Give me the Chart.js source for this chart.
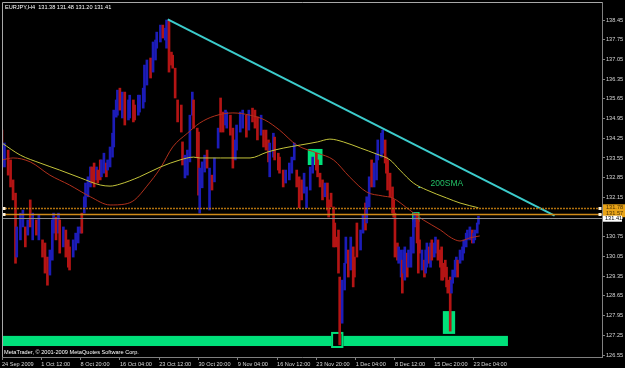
<!DOCTYPE html>
<html><head><meta charset="utf-8">
<script src="https://cdn.jsdelivr.net/npm/chart.js@4"></script>
<style>html,body{margin:0;padding:0;background:#000;overflow:hidden}canvas{display:block}</style>
</head><body>
<canvas id="c" width="625" height="368"></canvas>
<script>
// ---------- text ----------
const symbolTitle = "EURJPY,H4  131.38 131.48 131.20 131.41";
const copyrightText = "MetaTrader, \u00a9 2001-2009 MetaQuotes Software Corp.";
const smaLabel = "200SMA";

// ---------- axes ----------
const dateTickIdx = [0,32,64,96,128,160,192,224,256,288,320,352,384];
const dateLabels = ["24 Sep 2009","1 Oct 12:00","8 Oct 20:00","16 Oct 04:00","23 Oct 12:00","30 Oct 20:00","9 Nov 04:00","16 Nov 12:00","23 Nov 20:00","1 Dec 04:00","8 Dec 12:00","15 Dec 20:00","23 Dec 04:00"];
const priceTicks = [126.55,127.25,127.95,128.65,129.35,130.05,130.75,131.45,132.15,132.85,133.55,134.25,134.95,135.65,136.35,137.05,137.75,138.45];

// ---------- H4 bars (index = H4 bar number) ----------
const barIdx = [0,2,5,7,9,11,12,15,17,19,
21,23,25,28,30,33,35,37,39,41,
42,44,46,47,50,52,54,55,58,60,
62,64,65,67,68,70,72,73,75,77,
78,80,81,83,85,86,88,90,91,93,
94,96,98,100,103,104,107,108,111,112,
115,116,118,121,123,125,126,129,131,133,
134,136,138,139,141,143,146,147,149,151,
153,155,156,159,160,161,163,165,167,169,
171,173,176,178,180,182,183,186,188,190,
191,194,196,199,201,204,206,208,211,213,
215,217,218,221,222,225,226,229,231,234,
236,238,240,242,244,246,248,251,253,256,
257,259,261,263,265,266,268,270,271,273,
274,275,277,279,280,282,284,286,287,289,
292,294,296,297,299,301,303,305,306,309,
310,312,313,314,316,318,319,320,322,323,
325,326,327,328,330,331,333,335,336,338,
339,340,342,344,345,346,348,349,350,352,
353,355,357,358,359,361,362,363,365,366,
367,369,370,371,373,375,376,378,379,381,
383,384,385,387,388];
const barHigh = [134.54,134.08,133.83,133.48,132.77,132.30,131.10,131.59,131.70,131.10,
131.35,132.06,131.59,131.35,131.52,130.64,130.53,130.03,130.28,131.35,
131.59,131.45,131.59,131.35,131.10,130.99,130.64,130.39,130.64,130.88,
131.10,131.10,131.59,132.17,132.66,132.88,133.23,133.23,133.37,133.23,
133.12,133.48,133.48,133.72,133.37,133.48,133.94,134.43,135.25,135.61,
135.96,136.03,135.89,135.89,135.61,135.78,135.61,135.43,135.78,135.78,
136.03,136.85,137.03,137.10,137.67,137.74,138.02,138.27,138.27,138.16,
138.45,138.45,137.31,137.20,136.74,135.61,135.43,134.12,133.65,133.83,
135.07,135.89,135.61,134.61,134.47,133.19,133.41,133.65,133.83,133.19,
132.94,133.55,134.61,135.68,135.18,135.25,135.18,135.07,134.61,134.19,
134.72,135.18,135.25,135.07,135.25,135.32,135.25,135.01,135.07,134.54,
134.54,134.19,134.08,134.43,134.29,133.72,133.58,133.12,133.12,133.37,
133.58,134.08,133.12,132.88,132.77,133.01,132.52,133.23,133.58,133.72,
133.48,133.01,132.77,132.66,132.66,132.06,132.30,131.81,131.24,130.74,
130.99,129.32,129.21,129.81,130.74,130.28,130.74,130.39,130.03,131.24,
130.99,131.52,131.95,132.17,132.88,133.48,133.37,133.72,134.19,134.43,
134.54,134.19,133.58,133.48,133.01,132.52,132.06,131.59,130.53,130.39,
130.28,129.92,130.28,130.39,130.17,130.28,130.74,131.35,131.59,131.59,
131.35,130.64,130.28,129.92,130.28,130.53,130.39,130.53,130.64,130.53,
130.74,130.64,130.28,130.39,129.81,129.92,129.67,129.21,129.32,129.21,
129.57,129.92,130.03,129.92,130.28,130.39,130.64,130.88,130.99,131.10,
130.99,130.88,130.99,131.24,131.48];
const barLow = [133.37,133.23,132.94,132.52,132.06,129.81,130.03,130.64,131.10,130.39,
130.81,131.10,130.64,130.81,130.64,130.03,129.46,129.03,129.39,129.92,
130.88,130.64,130.88,130.17,130.39,130.03,129.67,129.57,130.03,130.28,
130.53,130.88,130.88,131.59,131.81,132.17,132.52,132.66,132.52,132.77,
132.66,132.77,132.88,133.01,132.88,133.12,133.23,133.58,133.94,135.00,
135.07,135.25,134.97,134.72,134.90,134.97,134.83,134.90,135.07,135.18,
135.32,135.54,136.14,136.39,136.60,137.03,137.45,137.67,137.81,137.74,
137.45,136.60,136.85,136.74,135.68,134.83,134.47,133.30,132.84,132.94,
133.41,135.07,134.61,133.55,132.23,131.59,132.49,133.05,133.19,131.70,
132.41,132.70,133.90,134.47,134.47,134.72,134.61,134.36,133.19,133.48,
133.83,134.47,134.61,134.29,134.54,134.83,134.61,134.19,134.36,133.94,
133.83,133.41,132.88,133.58,133.48,133.12,133.01,132.52,132.66,132.77,
133.01,133.48,132.52,131.78,132.06,132.30,131.78,132.41,133.01,133.12,
132.88,132.52,132.06,132.17,131.70,131.45,131.81,130.39,130.39,130.39,
129.46,126.91,127.68,128.86,129.81,129.32,129.57,128.97,129.32,130.03,
130.28,130.88,130.99,131.24,131.81,132.52,132.52,132.77,133.48,133.58,
133.72,133.37,133.01,132.41,132.17,131.59,131.45,130.03,129.92,129.81,
129.32,128.75,129.46,129.21,129.32,129.67,129.67,130.17,131.10,130.53,
129.46,130.17,129.57,129.32,129.46,129.67,129.81,129.67,129.92,130.03,
130.17,129.92,129.67,129.21,129.21,129.32,128.97,128.75,127.40,128.75,
129.10,129.32,129.57,129.32,129.81,129.92,130.17,130.39,130.64,130.64,
130.53,130.53,130.64,130.88,131.20];
const barUp = [0,1,0,0,0,0,1,1,1,0,
1,0,1,0,1,0,0,0,1,1,
1,0,1,0,1,0,0,0,1,1,
1,1,0,1,1,1,1,0,0,1,
0,0,1,1,0,1,1,1,1,1,
1,0,1,0,1,1,0,0,1,1,
1,1,1,0,1,1,1,1,0,1,
1,0,0,0,0,0,0,0,1,1,
1,1,0,0,0,1,1,1,0,1,
0,1,1,0,0,1,1,0,0,1,
1,1,1,0,1,0,0,0,1,0,
0,0,1,1,0,0,0,0,1,1,
1,1,0,0,0,1,1,1,1,0,
0,0,0,1,0,0,0,0,0,0,
0,0,1,1,1,0,1,0,0,0,
1,1,0,1,1,0,1,1,1,1,
1,0,0,0,0,0,0,0,0,1,
1,0,1,1,0,1,1,1,1,0,
0,0,1,0,1,1,0,1,0,1,
1,0,0,0,0,0,0,0,0,1,
1,1,1,0,1,1,1,1,1,1,
0,1,1,1,1];

// ---------- moving averages ----------
const sma200Idx = [0,15,31,47,64,80,88,96,112,129,145,156,161,178,202,216,229,243,257,267,278,292,305,316,324,335,346,362,373,388];
const sma200 = [134.08,133.65,133.37,133.12,132.84,132.59,132.55,132.62,132.88,133.23,133.48,133.58,133.55,133.55,133.55,133.76,133.90,134.01,134.12,134.22,134.12,133.90,133.69,133.48,133.12,132.66,132.41,132.13,131.95,131.78];
const maRedIdx = [0,9,23,39,55,72,88,100,108,118,129,139,151,161,173,188,202,214,226,240,257,270,283,297,310,318,332,343,357,366,373,381,389];
const maRed = [133.48,133.55,133.41,132.94,132.59,132.17,131.88,131.91,132.06,132.55,133.19,133.94,134.43,134.79,135.04,135.15,135.07,134.90,134.54,134.01,133.72,133.48,132.88,132.34,132.20,132.13,131.70,131.35,130.99,130.71,130.60,130.71,130.78];

// ---------- objects ----------
const trendIdx = [135,450];
const trendPrice = [138.47,131.50];
const levelPrices = [131.78,131.57];
const bidPrice = 131.41;
const boxIdxStart = [249,334,359];
const boxIdxEnd = [261,340,369];
const boxPriceTop = [133.87,131.63,128.11];
const boxPriceBottom = [133.30,131.28,127.30];
const stripIdx = [0,412];
const stripPrice = [127.23,126.87];
const hollowIdx = [268,278];
const hollowPrice = [127.37,126.80];
const smaLabelAt = [349,132.62];
const dotAt = [339,132.52];

Chart.defaults.font.family = '"Liberation Sans", Arial, sans-serif';

const GREEN = '#00e07a';
const FS = 5.6;

const mtOverlay = {
  id: 'mtOverlay',
  beforeDraw(chart) {
    const c = chart.ctx; c.save(); c.fillStyle = '#000'; c.fillRect(0, 0, chart.width, chart.height); c.restore();
  },
  beforeDatasetsDraw(chart) {
    const c = chart.ctx, a = chart.chartArea, X = chart.scales.x, Y = chart.scales.y;
    c.save();
    c.beginPath(); c.rect(a.left, a.top, a.right - a.left, a.bottom - a.top); c.clip();
    c.fillStyle = GREEN;
    let x0 = X.getPixelForValue(stripIdx[0]), x1 = X.getPixelForValue(stripIdx[1]);
    let y0 = Y.getPixelForValue(stripPrice[0]), y1 = Y.getPixelForValue(stripPrice[1]);
    c.fillRect(x0, y0, x1 - x0, y1 - y0);
    for (let k = 0; k < boxIdxStart.length; k++) {
      x0 = X.getPixelForValue(boxIdxStart[k]); x1 = X.getPixelForValue(boxIdxEnd[k]);
      y0 = Y.getPixelForValue(boxPriceTop[k]); y1 = Y.getPixelForValue(boxPriceBottom[k]);
      c.fillStyle = GREEN; c.fillRect(x0, y0, x1 - x0, y1 - y0);
    }
    x0 = X.getPixelForValue(hollowIdx[0]); x1 = X.getPixelForValue(hollowIdx[1]);
    y0 = Y.getPixelForValue(hollowPrice[0]); y1 = Y.getPixelForValue(hollowPrice[1]);
    c.fillStyle = '#000'; c.fillRect(x0, y0, x1 - x0, y1 - y0);
    c.strokeStyle = GREEN; c.lineWidth = 2; c.strokeRect(x0 + 1, y0 + 1, x1 - x0 - 2, y1 - y0 - 2);
    c.restore();
  },
  afterDatasetsDraw(chart) {
    const c = chart.ctx, a = chart.chartArea, X = chart.scales.x, Y = chart.scales.y;
    c.save();
    // bid line
    let y = Math.round(Y.getPixelForValue(bidPrice)) + 0.5;
    c.strokeStyle = '#8c8c8c'; c.lineWidth = 1;
    c.beginPath(); c.moveTo(a.left, y); c.lineTo(a.right, y); c.stroke();
    // level lines
    const cols = ['#b0700e', '#d08a18'];
    levelPrices.forEach((p, k) => {
      const yy = Math.round(Y.getPixelForValue(p)) + 0.5;
      c.strokeStyle = cols[k]; c.lineWidth = 1.5;
      c.setLineDash(k === 0 ? [2, 1] : []);
      c.beginPath(); c.moveTo(a.left, yy); c.lineTo(a.right, yy); c.stroke();
      c.setLineDash([]);
      c.fillStyle = '#fff2d8';
      c.fillRect(a.left + 0.5, yy - 1.5, 3, 3);
      c.fillRect(a.right - 3.5, yy - 1.5, 3, 3);
    });
    // 200SMA label
    c.font = '8.5px "Liberation Sans", Arial, sans-serif';
    c.fillStyle = '#22c066'; c.textBaseline = 'middle'; c.textAlign = 'left';
    c.fillText(smaLabel, X.getPixelForValue(smaLabelAt[0]), Y.getPixelForValue(smaLabelAt[1]));
    c.fillStyle = '#3cc8c8';
    c.fillRect(X.getPixelForValue(dotAt[0]), Y.getPixelForValue(dotAt[1]), 2, 1);
    c.restore();
  },
  afterDraw(chart) {
    const c = chart.ctx, a = chart.chartArea, Y = chart.scales.y;
    c.save();
    // frame left/top
    c.strokeStyle = '#a8a8a8'; c.lineWidth = 1;
    c.beginPath(); c.moveTo(a.left + 0.5, a.bottom); c.lineTo(a.left + 0.5, a.top + 0.5); c.lineTo(a.right, a.top + 0.5); c.stroke();
    c.font = FS + 'px "Liberation Sans", Arial, sans-serif';
    c.textBaseline = 'middle'; c.textAlign = 'left';
    // level price labels
    const yA = Y.getPixelForValue(levelPrices[0]), yB = Y.getPixelForValue(levelPrices[1]);
    c.fillStyle = '#e8a317';
    c.fillRect(a.right + 1, yA - 3.5, 625 - a.right - 1, yB - yA + 7);
    c.fillStyle = '#4a3000';
    c.fillText(levelPrices[0].toFixed(2), a.right + 4, yA);
    c.fillText(levelPrices[1].toFixed(2), a.right + 4, yB);
    const yC = Y.getPixelForValue(bidPrice);
    c.fillStyle = '#ffffff'; c.fillRect(a.right + 1, yC - 2.5, 19, 6);
    c.fillStyle = '#000'; c.fillText(bidPrice.toFixed(2), a.right + 3, yC + 0.5);
    // title and copyright
    c.fillStyle = '#ffffff';
    c.fillText(symbolTitle, a.left + 3, 7);
    c.fillText(copyrightText, a.left + 2, 352.5);
    c.restore();
  }
};

const barData = barIdx.map((v, k) => ({ x: v, y: [barLow[k], barHigh[k]] }));
const barColors = barUp.map(u => u ? '#1c1cb8' : '#b41414');

new Chart(document.getElementById('c'), {
  type: 'bar',
  data: {
    datasets: [
      { type: 'bar', data: barData, backgroundColor: barColors, barThickness: 2, borderWidth: 0, order: 3 },
      { type: 'line', data: sma200Idx.map((v, k) => ({ x: v, y: sma200[k] })), borderColor: '#c4c43a', borderWidth: 1, pointRadius: 0, cubicInterpolationMode: 'monotone', order: 2 },
      { type: 'line', data: maRedIdx.map((v, k) => ({ x: v, y: maRed[k] })), borderColor: '#b0301c', borderWidth: 1, pointRadius: 0, cubicInterpolationMode: 'monotone', order: 2 },
      { type: 'line', data: trendIdx.map((v, k) => ({ x: v, y: trendPrice[k] })), borderColor: '#3ccccc', borderWidth: 2, pointRadius: 0, order: 1 }
    ]
  },
  options: {
    responsive: false, animation: false, devicePixelRatio: 1,
    layout: { padding: { left: 2, top: 2, right: 0, bottom: 0 } },
    plugins: { legend: { display: false }, tooltip: { enabled: false } },
    scales: {
      x: {
        type: 'linear', position: 'bottom', min: 0, max: 488.6, offset: false,
        afterBuildTicks: s => { s.ticks = dateTickIdx.map(v => ({ value: v })); },
        afterFit: s => { s.height = 11; s.paddingLeft = 0; s.paddingRight = 0; },
        grid: { drawOnChartArea: false, tickLength: 3, color: '#808080', offset: false },
        border: { color: '#808080' },
        ticks: { color: '#d8d8d8', font: { size: FS }, padding: 1, autoSkip: false, maxRotation: 0, minRotation: 0, align: 'start',
          callback: v => { const k = dateTickIdx.indexOf(v); return k >= 0 ? dateLabels[k] : ''; } }
      },
      y: {
        type: 'linear', position: 'right', min: 126.48, max: 139.09,
        afterBuildTicks: s => { s.ticks = priceTicks.map(v => ({ value: v })); },
        afterFit: s => { s.width = 23; s.paddingTop = 0; s.paddingBottom = 0; },
        grid: { drawOnChartArea: false, tickLength: 3, color: '#808080' },
        border: { color: '#808080' },
        ticks: { color: '#d8d8d8', font: { size: FS }, padding: 1, autoSkip: false, callback: v => v.toFixed(2) }
      }
    }
  },
  plugins: [mtOverlay]
});
</script>
</body></html>
